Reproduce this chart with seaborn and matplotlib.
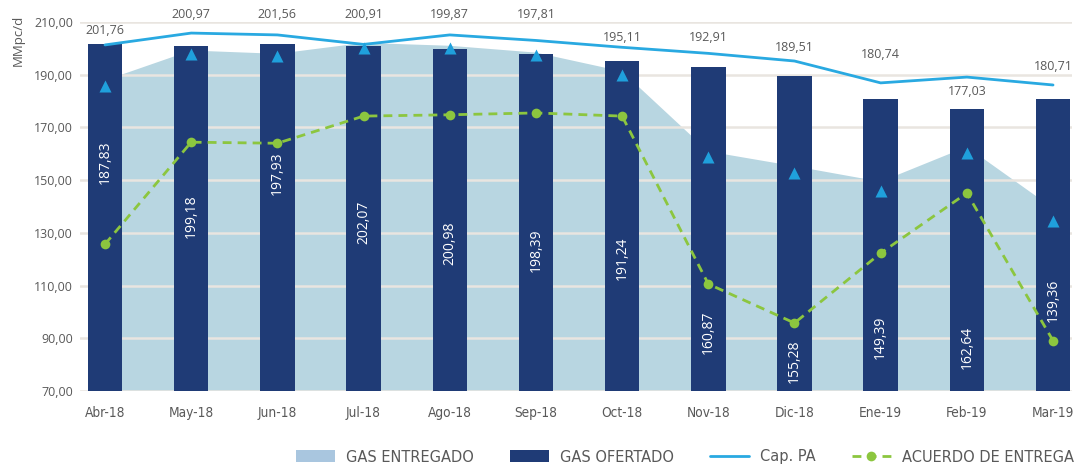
import matplotlib
matplotlib.use("Agg")
import numpy as np
import pandas as pd
import matplotlib.pyplot as plt
import seaborn as sns
from matplotlib.lines import Line2D
from matplotlib.patches import Patch
from matplotlib import font_manager

# Datos (MMpc/d)
months = ["Abr-18", "May-18", "Jun-18", "Jul-18", "Ago-18", "Sep-18",
          "Oct-18", "Nov-18", "Dic-18", "Ene-19", "Feb-19", "Mar-19"]
gas_ofertado = [201.76, 200.97, 201.56, 200.91, 199.87, 197.81,
                195.11, 192.91, 189.51, 180.74, 177.03, 180.71]
gas_entregado = [187.83, 199.18, 197.93, 202.07, 200.98, 198.39,
                 191.24, 160.87, 155.28, 149.39, 162.64, 139.36]
cap_pa = [201.3, 205.8, 205.1, 201.5, 205.1, 203.0,
          200.4, 198.1, 195.2, 186.9, 189.1, 186.1]
referencia = [185.7, 197.9, 197.1, 200.3, 200.0, 197.4,
              189.9, 158.9, 152.8, 146.0, 160.2, 134.5]
acuerdo = [125.7, 164.4, 164.0, 174.3, 174.8, 175.5,
           174.3, 110.6, 95.8, 122.3, 145.1, 89.1]

# where the labels sit (data units), placed by hand in the original
entregado_label_y = [156.9, 136.4, 152.7, 134.1, 126.2, 123.5,
                     120.5, 92.4, 81.4, 90.5, 86.7, 104.5]
ofertado_label_y = [206.6, 212.7, 212.7, 212.7, 212.7, 212.7,
                    204.3, 204.3, 200.5, 197.5, 183.8, 193.3]

df = pd.DataFrame({
    "mes": months,
    "pos": np.arange(len(months)),
    "ofertado": gas_ofertado,
    "entregado": gas_entregado,
    "cap_pa": cap_pa,
    "referencia": referencia,
    "acuerdo": acuerdo,
})

C_AREA = "#b8d6e1"
C_AREA_LEG = "#a9c6df"
C_BAR = "#1f3b76"
C_CAP = "#29a9e1"
C_TRI = "#1fa0dc"
C_GREEN = "#8cc63f"
C_GRID = "#e9e5e0"
C_TEXT = "#595959"

sns.set_style("white")
plt.rcParams["font.family"] = ["Open Sans", "DejaVu Sans"]

# condensed face for axis / legend text
NARROW = font_manager.FontProperties(family="DejaVu Sans", stretch="condensed")

fig = plt.figure(figsize=(10.74, 4.68), dpi=100)
ax = fig.add_axes([80 / 1074, 1 - 391 / 468, (1072 - 80) / 1074, (391 - 22) / 468])

# Gas entregado (area behind everything)
ax.fill_between(df["pos"], 0, df["entregado"], color=C_AREA, lw=0, zorder=0.2)

# Gas ofertado (bars)
sns.barplot(data=df, x="mes", y="ofertado", color=C_BAR, saturation=1,
            width=0.4, ax=ax, zorder=2, linewidth=0, edgecolor=C_BAR)

# Cap. PA
sns.lineplot(data=df, x="pos", y="cap_pa", color=C_CAP, lw=2, ax=ax,
             zorder=3, sort=False)

# triangles (no legend entry)
ax.scatter(df["pos"], df["referencia"], marker="^", s=75, color=C_TRI,
           lw=0, zorder=4)

# Acuerdo de entrega
sns.lineplot(data=df, x="pos", y="acuerdo", color=C_GREEN, lw=2,
             linestyle=(0, (3.2, 2.2)), marker="o", markersize=7,
             markeredgewidth=0, ax=ax, zorder=5, sort=False)

# labels
for i in range(len(months)):
    ax.text(i, entregado_label_y[i], f"{gas_entregado[i]:.2f}".replace(".", ","),
            rotation=90, ha="center", va="center", color="white",
            fontsize=10, zorder=6)
    ax.text(i, ofertado_label_y[i], f"{gas_ofertado[i]:.2f}".replace(".", ","),
            ha="center", va="center", color=C_TEXT, fontsize=9,
            zorder=6, clip_on=False)

ax.set_ylim(70, 210)
ax.set_xlim(-0.29, 11.22)
ax.set_yticks(range(70, 211, 20))
ax.set_yticklabels([f"{v},00" for v in range(70, 211, 20)])
ax.yaxis.grid(True, color=C_GRID, lw=1.8)
ax.set_axisbelow(True)
ax.tick_params(axis="y", length=0, pad=5, labelsize=9, labelcolor=C_TEXT)
ax.tick_params(axis="x", length=0, pad=11, labelcolor=C_TEXT)
for lab in ax.get_xticklabels():
    lab.set_fontproperties(NARROW)
    lab.set_fontsize(9.8)
ax.set_xlabel("")
ax.set_ylabel("")
for s in ax.spines.values():
    s.set_visible(False)

fig.text(18 / 1074, 1 - 40 / 468, "MMpc/d", rotation=90, ha="center",
         va="center", fontsize=9.5, color=C_TEXT)

handles = [
    Patch(facecolor=C_AREA_LEG, edgecolor="none"),
    Patch(facecolor=C_BAR, edgecolor="none"),
    Line2D([], [], color=C_CAP, lw=2),
    Line2D([], [], color=C_GREEN, lw=2, linestyle=(0, (3.2, 2.2)),
           marker="o", markersize=7, markeredgewidth=0),
]
labels = ["GAS ENTREGADO", "GAS OFERTADO", "Cap. PA", "ACUERDO DE ENTREGA"]
leg_prop = NARROW.copy()
leg_prop.set_size(11.7)
fig.legend(handles, labels, loc="center right", bbox_to_anchor=(1.0, 1 - 457 / 468),
           ncol=4, frameon=False, handlelength=2.4, handletextpad=0.7,
           columnspacing=2.2, borderaxespad=0, borderpad=0,
           prop=leg_prop, labelcolor=C_TEXT)

fig.savefig("out.png", dpi=100)
